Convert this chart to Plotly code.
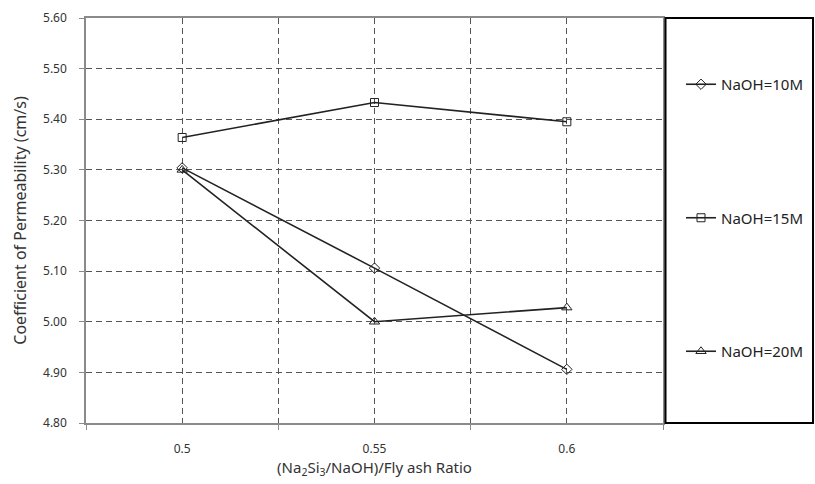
import plotly.graph_objects as go

ratios = [0.5, 0.55, 0.6]
tick_labels = ["0.5", "0.55", "0.6"]
naoh10 = [5.304, 5.106, 4.906]
naoh15 = [5.364, 5.433, 5.395]
naoh20 = [5.300, 5.000, 5.028]
series_names = ["NaOH=10M", "NaOH=15M", "NaOH=20M"]
y_ticks = [4.80, 4.90, 5.00, 5.10, 5.20, 5.30, 5.40, 5.50, 5.60]
boundaries = [0.475, 0.525, 0.575, 0.625]

W, H = 815, 484
L, R, T, B = 86, 663, 18, 423

FONT = "Noto Sans"
fig = go.Figure()
symbols = ["diamond-open", "square-open", "triangle-up-open"]
sizes = [8, 8, 9]
for i, (vals, name) in enumerate(zip([naoh10, naoh15, naoh20], series_names)):
    fig.add_trace(go.Scatter(
        x=ratios, y=vals, name=name, mode="lines+markers",
        line=dict(color="#222222", width=1.6),
        marker=dict(symbol=symbols[i], size=sizes[i], color="#222222",
                    line=dict(width=1, color="#222222")),
        legendgroup=name,
    ))

axis_font = dict(family=FONT, size=12, color="#333333")
fig.update_layout(
    width=W, height=H,
    margin=dict(l=L, r=W - R, t=T, b=H - B, autoexpand=False),
    paper_bgcolor="white", plot_bgcolor="white",
    font=dict(family=FONT, color="#333333"),
    showlegend=True,
    legend=dict(x=(681 - L) / (R - L), y=(B - 68) / (B - T), xanchor="left", yanchor="top",
                font=dict(family=FONT, size=15, color="#222222"),
                tracegroupgap=111, bgcolor="rgba(0,0,0,0)", borderwidth=0,
                itemwidth=30),
    xaxis=dict(
        range=[0.475, 0.625], tickmode="array", tickvals=ratios, ticktext=tick_labels,
        ticks="", showgrid=True, gridcolor="#555555", griddash="6px,4px", gridwidth=1,
        showline=True, linecolor="#8a8a8a", linewidth=1.5, mirror=True,
        tickfont=axis_font, ticklabelstandoff=14,
        minor=dict(tickmode="array", tickvals=boundaries, ticks="outside", ticklen=5,
                   tickcolor="#8a8a8a", showgrid=True, gridcolor="#555555",
                   griddash="6px,4px", gridwidth=1),
        title=dict(text="(Na<sub>2</sub>Si<sub>3</sub>/NaOH)/Fly ash Ratio",
                   font=dict(family=FONT, size=15, color="#333333"), standoff=2),
        zeroline=False,
    ),
    yaxis=dict(
        range=[4.80, 5.60], tickmode="array", tickvals=y_ticks,
        ticktext=[f"{v:.2f}" for v in y_ticks],
        ticks="outside", ticklen=5, tickcolor="#8a8a8a",
        showgrid=True, gridcolor="#555555", griddash="6px,4px", gridwidth=1,
        showline=True, linecolor="#8a8a8a", linewidth=1.5, mirror=True,
        tickfont=axis_font, ticklabelstandoff=10,
        title=dict(text="Coefficient of Permeability (cm/s)",
                   font=dict(family=FONT, size=16, color="#333333"), standoff=12),
        zeroline=False,
    ),
    shapes=[
        dict(type="rect", xref="paper", yref="paper",
             x0=(665.5 - L) / (R - L), x1=(813 - L) / (R - L), y0=0, y1=1,
             line=dict(color="black", width=2), fillcolor="rgba(0,0,0,0)", layer="above"),
    ],
)

fig.write_html("out.html")
